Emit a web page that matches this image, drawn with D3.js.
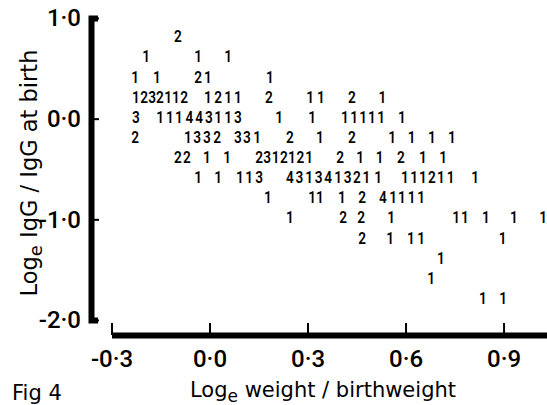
<!DOCTYPE html>
<html><head><meta charset="utf-8">
<script src="https://cdn.jsdelivr.net/npm/d3@7"></script>
<style>
html,body{margin:0;padding:0;background:#fff;}
svg{display:block;}
</style></head><body>
<svg id="chart" width="547" height="405"></svg>
<script>
// Axis ticks
const xTicks = [-0.3, 0.0, 0.3, 0.6, 0.9];
const yTicks = [1.0, 0.0, -1.0, -2.0];

// Rows of the frequency table: loge IgG ratio level of each row
const levels = [0.8, 0.6, 0.4, 0.2, 0.0, -0.2, -0.4, -0.6, -0.8, -1.0, -1.2, -1.4, -1.6, -1.8];

// Loge weight ratio of every count in each row
const rowX = [
  [-0.097],
  [-0.194, -0.035, 0.057],
  [-0.228, -0.161, -0.035, -0.005, 0.185],
  [-0.225, -0.200, -0.176, -0.152, -0.127, -0.103, -0.078, -0.005, 0.026, 0.057, 0.087, 0.182, 0.308, 0.341, 0.436, 0.529],
  [-0.225, -0.151, -0.121, -0.094, -0.062, -0.032, -0.002, 0.026, 0.057, 0.087, 0.213, 0.314, 0.414, 0.443, 0.470, 0.497, 0.525, 0.589],
  [-0.228, -0.066, -0.038, -0.008, 0.023, 0.087, 0.114, 0.146, 0.246, 0.338, 0.436, 0.559, 0.619, 0.681, 0.742],
  [-0.097, -0.069, -0.008, 0.054, 0.152, 0.176, 0.202, 0.228, 0.252, 0.278, 0.305, 0.400, 0.461, 0.521, 0.586, 0.653, 0.715],
  [-0.035, 0.026, 0.093, 0.121, 0.152, 0.246, 0.275, 0.305, 0.334, 0.363, 0.394, 0.423, 0.451, 0.480, 0.516, 0.598, 0.626, 0.653, 0.681, 0.708, 0.738, 0.813],
  [0.179, 0.314, 0.338, 0.405, 0.467, 0.531, 0.562, 0.589, 0.619, 0.648],
  [0.246, 0.409, 0.464, 0.556, 0.755, 0.782, 0.846, 0.932, 1.021],
  [0.467, 0.553, 0.616, 0.648, 0.897],
  [0.708],
  [0.678],
  [0.837, 0.899]
];

// Number of infants at each position
const rowCounts = [
  [2],
  [1, 1, 1],
  [1, 1, 2, 1, 1],
  [1, 2, 3, 2, 1, 1, 2, 1, 2, 1, 1, 2, 1, 1, 2, 1],
  [3, 1, 1, 1, 4, 4, 3, 1, 1, 3, 1, 1, 1, 1, 1, 1, 1, 1],
  [2, 1, 3, 3, 2, 3, 3, 1, 2, 1, 2, 1, 1, 1, 1],
  [2, 2, 1, 1, 2, 3, 1, 2, 1, 2, 1, 2, 1, 1, 2, 1, 1],
  [1, 1, 1, 1, 3, 4, 3, 1, 3, 4, 1, 3, 2, 1, 1, 1, 1, 1, 2, 1, 1, 1],
  [1, 1, 1, 1, 2, 4, 1, 1, 1, 1],
  [1, 2, 2, 1, 1, 1, 1, 1, 1],
  [2, 1, 1, 1, 1],
  [1],
  [1],
  [1, 1]
];

const TICK_FONT = "Roboto, 'DejaVu Sans', sans-serif";
const TITLE_FONT = "'DejaVu Sans', Roboto, sans-serif";
const fmt = d => d.toFixed(1).replace('.', '\u00b7');

const svg = d3.select('#chart');
const x = d3.scaleLinear().domain([-0.3, 1.033]).range([111.5, 547]);
const y = d3.scaleLinear().domain([-2, 1]).range([320, 18]);

// Horizontal axis: heavy rule with short upward ticks
const gx = svg.append('g')
  .attr('transform', 'translate(0,335)')
  .call(d3.axisBottom(x).tickValues(xTicks).tickSizeInner(-12).tickSizeOuter(0)
    .tickPadding(15).tickFormat(fmt));
gx.attr('font-family', TICK_FONT).attr('font-size', 24);
gx.select('.domain').attr('stroke', '#000').attr('stroke-width', 6);
gx.selectAll('.tick line').attr('stroke', '#000').attr('stroke-width', 2);
gx.selectAll('.tick text').attr('fill', '#000').attr('font-weight', 500);

// Vertical axis: heavy rule with ticks pointing into the plot
const gy = svg.append('g')
  .attr('transform', 'translate(91,0)')
  .call(d3.axisLeft(y).tickValues(yTicks).tickSizeInner(-8).tickSizeOuter(-7)
    .tickPadding(10).tickFormat(fmt));
gy.attr('font-family', TICK_FONT).attr('font-size', 24);
gy.select('.domain').attr('stroke', '#000').attr('stroke-width', 6).attr('fill', 'none');
gy.selectAll('.tick line').attr('stroke', '#000').attr('stroke-width', 2);
gy.selectAll('.tick text').attr('fill', '#000').attr('font-weight', 500);

// Counts drawn as digits at their positions
const points = levels.flatMap((lv, i) => rowX[i].map((xv, j) => ({ x: xv, y: lv, n: rowCounts[i][j] })));
svg.append('g')
  .attr('font-family', TICK_FONT)
  .attr('font-size', 17)
  .attr('font-weight', 600)
  .attr('text-anchor', 'middle')
  .selectAll('text')
  .data(points)
  .join('text')
  .attr('transform', d => `translate(${x(d.x)},${y(d.y) - 2}) scale(0.8,1)`)
  .attr('dy', '0.36em')
  .text(d => d.n);

// Axis titles
const xt = svg.append('text')
  .attr('x', 323).attr('y', 397)
  .attr('text-anchor', 'middle')
  .attr('font-family', TITLE_FONT).attr('font-size', 21);
xt.append('tspan').text('Log');
xt.append('tspan').attr('dy', 5).attr('font-size', 17).text('e');
xt.append('tspan').attr('dy', -5).text(' weight / birthweight');

const yt = svg.append('text')
  .attr('transform', 'translate(37,173) rotate(-90)')
  .attr('text-anchor', 'middle')
  .attr('font-family', TITLE_FONT).attr('font-size', 22.5);
yt.append('tspan').text('Log');
yt.append('tspan').attr('dy', 5).attr('font-size', 18).text('e');
yt.append('tspan').attr('dy', -5).text(' IgG / IgG at birth');

svg.append('text')
  .attr('x', 12).attr('y', 400)
  .attr('font-family', TITLE_FONT).attr('font-size', 21)
  .text('Fig 4');
</script>
</body></html>
